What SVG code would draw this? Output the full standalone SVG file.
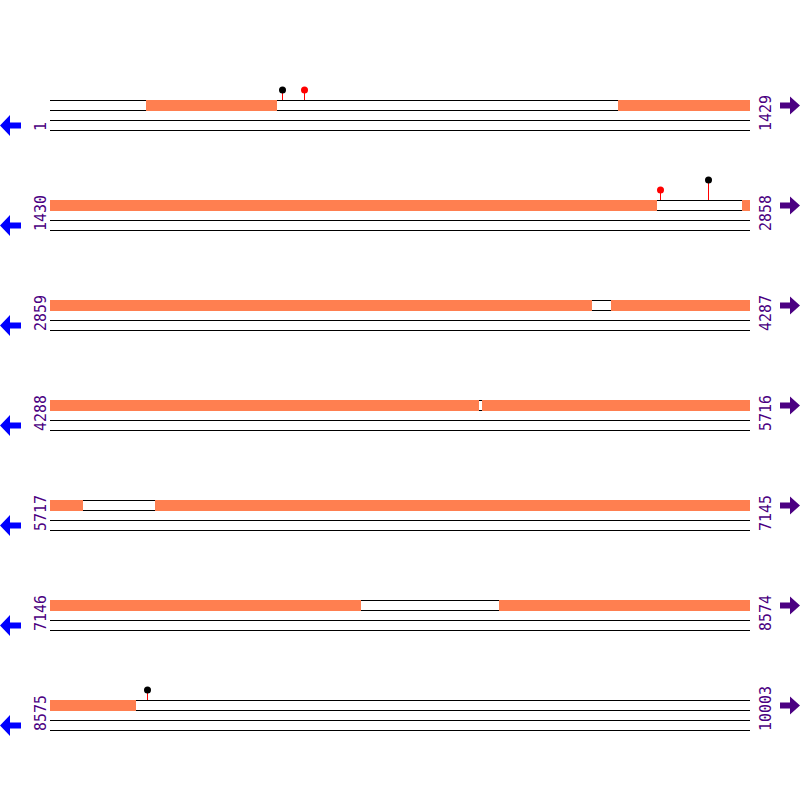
<svg xmlns="http://www.w3.org/2000/svg" width="800" height="800" viewBox="0 0 800 800">
<defs>
<style>
.ln{stroke:#000;stroke-width:1;fill:none}
.seg{fill:#FF7F50}
.lbl{font-family:"DejaVu Sans Mono",monospace;font-size:15px;fill:#4B0082}
.stem{stroke:#FF0000;stroke-width:1}
.la{fill:#0000FF}
.ra{fill:#4B0082}
</style>
<g id="strand">
<line class="ln" x1="50" y1="100.5" x2="750" y2="100.5"/>
<line class="ln" x1="50" y1="110.5" x2="750" y2="110.5"/>
<line class="ln" x1="50" y1="120.5" x2="750" y2="120.5"/>
<line class="ln" x1="50" y1="130.5" x2="750" y2="130.5"/>
<polygon class="la" points="0,125.5 10,115 10,122.5 21,122.5 21,128.5 10,128.5 10,136"/>
<polygon class="ra" points="800,105.5 790,96.5 790,102.5 780,102.5 780,108.5 790,108.5 790,114.5"/>
</g>
</defs>
<rect width="800" height="800" fill="#fff"/>
<g id="connectors">
<line class="stem" x1="282.5" y1="90" x2="282.5" y2="100"/>
<line class="stem" x1="304.5" y1="90" x2="304.5" y2="100"/>
<line class="stem" x1="660.5" y1="190" x2="660.5" y2="200"/>
<line class="stem" x1="708.5" y1="180" x2="708.5" y2="200"/>
<line class="stem" x1="147.5" y1="690" x2="147.5" y2="700"/>
</g>
<g id="row1">
<use href="#strand"/>
<rect class="seg" x="146" y="100" width="131" height="11"/>
<rect class="seg" x="618" y="100" width="132" height="11"/>
<text class="lbl" transform="translate(46,131) rotate(-90)">1</text>
<text class="lbl" transform="translate(771,131) rotate(-90)">1429</text>
<circle cx="282.5" cy="90" r="3.5" fill="#000"/>
<circle cx="304.5" cy="90" r="3.5" fill="#FF0000"/>
</g>
<g id="row2" transform="translate(0,100)">
<use href="#strand"/>
<rect class="seg" x="50" y="100" width="607" height="11"/>
<rect class="seg" x="742" y="100" width="8" height="11"/>
<text class="lbl" transform="translate(46,131) rotate(-90)">1430</text>
<text class="lbl" transform="translate(771,131) rotate(-90)">2858</text>
<circle cx="660.5" cy="90" r="3.5" fill="#FF0000"/>
<circle cx="708.5" cy="80" r="3.5" fill="#000"/>
</g>
<g id="row3" transform="translate(0,200)">
<use href="#strand"/>
<rect class="seg" x="50" y="100" width="542" height="11"/>
<rect class="seg" x="611" y="100" width="139" height="11"/>
<text class="lbl" transform="translate(46,131) rotate(-90)">2859</text>
<text class="lbl" transform="translate(771,131) rotate(-90)">4287</text>
</g>
<g id="row4" transform="translate(0,300)">
<use href="#strand"/>
<rect class="seg" x="50" y="100" width="429" height="11"/>
<rect class="seg" x="482" y="100" width="268" height="11"/>
<text class="lbl" transform="translate(46,131) rotate(-90)">4288</text>
<text class="lbl" transform="translate(771,131) rotate(-90)">5716</text>
</g>
<g id="row5" transform="translate(0,400)">
<use href="#strand"/>
<rect class="seg" x="50" y="100" width="33" height="11"/>
<rect class="seg" x="155" y="100" width="595" height="11"/>
<text class="lbl" transform="translate(46,131) rotate(-90)">5717</text>
<text class="lbl" transform="translate(771,131) rotate(-90)">7145</text>
</g>
<g id="row6" transform="translate(0,500)">
<use href="#strand"/>
<rect class="seg" x="50" y="100" width="311" height="11"/>
<rect class="seg" x="499" y="100" width="251" height="11"/>
<text class="lbl" transform="translate(46,131) rotate(-90)">7146</text>
<text class="lbl" transform="translate(771,131) rotate(-90)">8574</text>
</g>
<g id="row7" transform="translate(0,600)">
<use href="#strand"/>
<rect class="seg" x="50" y="100" width="86" height="11"/>
<text class="lbl" transform="translate(46,131) rotate(-90)">8575</text>
<text class="lbl" transform="translate(771,131) rotate(-90)">10003</text>
<circle cx="147.5" cy="90" r="3.5" fill="#000"/>
</g>
</svg>
